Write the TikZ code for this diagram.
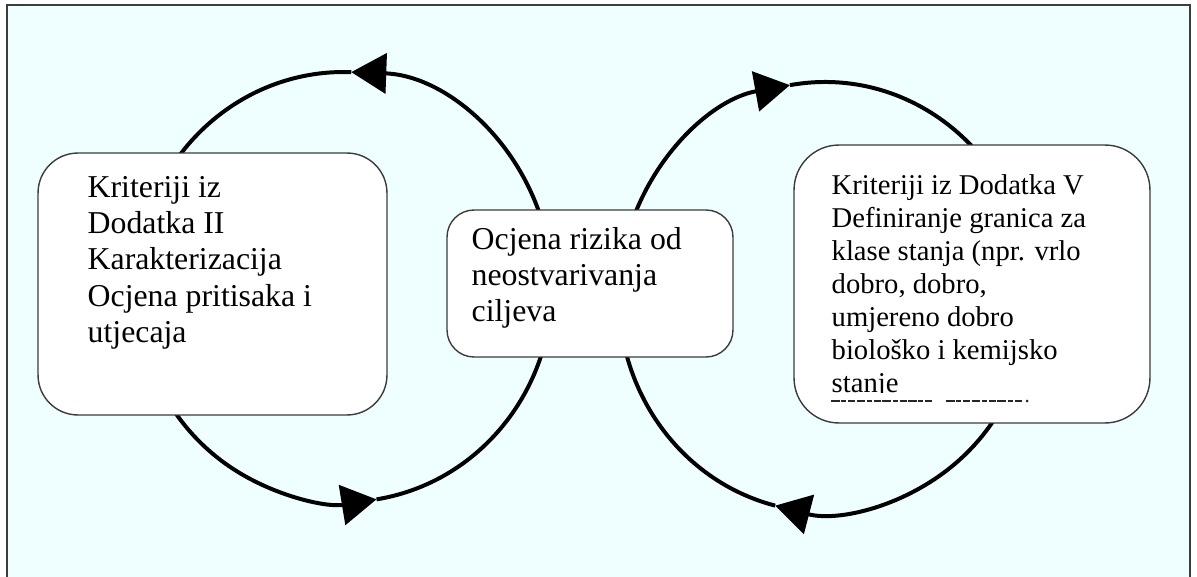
\documentclass[tikz,border=0pt]{standalone}
\usepackage{fontspec}
\setmainfont{Liberation Serif}
\usetikzlibrary{arrows.meta}
\definecolor{panel}{RGB}{239,255,255}
\definecolor{edge}{RGB}{60,60,60}
\newcommand{\bigstrut}{\rule{0pt}{14.5pt}}
\newcommand{\smallstrut}{\rule{0pt}{13.1pt}}
\tikzset{
  box/.style={draw=edge, line width=0.8pt, fill=white, inner sep=0pt},
  cycle line/.style={line width=2.27pt, black,
    -{Triangle[length=0.7cm,width=0.8cm]}},
  bigtext/.style={inner sep=0pt, anchor=north west, align=left,
    font=\fontsize{18.1pt}{20.6pt}\selectfont},
  smalltext/.style={inner sep=0pt, anchor=north west, align=left,
    font=\fontsize{16.3pt}{18.8pt}\selectfont},
  cut line/.style={line width=1.4pt, black!85,
    dash pattern=on 5pt off 0.8pt on 3pt off 1pt on 4pt off 0.8pt}
}
\begin{document}
\begin{tikzpicture}[x=0.02cm, y=0.02cm]
\useasboundingbox (0,0) rectangle (1197,576);
% panel with its frame
\fill[white] (0,0) rectangle (1197,576);
\draw[fill=panel, draw=edge, line width=1.2pt] (7,-10) rectangle (1190,571);

% centres of the two cycles
\coordinate (c1) at (344,289);
\coordinate (c2) at (825,279);

% left cycle, running anticlockwise
\draw[cycle line] (c1) ++(-81:208 and 215)
  arc[start angle=-81, end angle=88, x radius=208, y radius=215];
\draw[cycle line] (c1) ++(88:208 and 215)
  arc[start angle=88, end angle=279, x radius=208, y radius=215];

% right cycle, running clockwise
\draw[cycle line] (c2) ++(99.8:206 and 215)
  arc[start angle=99.8, end angle=-104, x radius=206, y radius=215];
\draw[cycle line] (c2) ++(256:206 and 215)
  arc[start angle=256, end angle=99.8, x radius=206, y radius=215];

% boxes
\node[box, rounded corners=0.8cm, minimum width=6.98cm, minimum height=5.24cm]
  (lbox) at (212.5,292) {};
\node[box, rounded corners=0.54cm, minimum width=5.72cm, minimum height=2.94cm]
  (mbox) at (590,292.5) {};
\node[box, rounded corners=0.9cm, minimum width=7.12cm, minimum height=5.56cm]
  (rbox) at (972,292) {};

% texts
\node[bigtext] (ltext) at ([shift={(50,-19.4)}]lbox.north west)
  {\bigstrut Kriteriji iz\\Dodatka II\\Karakterizacija\\Ocjena pritisaka i\\utjecaja};
\node[bigtext] (mtext) at ([shift={(25,-14.4)}]mbox.north west)
  {\bigstrut Ocjena rizika od\\neostvarivanja\\ciljeva};
\begin{scope}
  \clip (794,431) rectangle (1150,184);
  \node[smalltext] (rtext) at ([shift={(38,-26.9)}]rbox.north west)
    {\smallstrut Kriteriji iz Dodatka V\\Definiranje granica za\\klase stanja (npr. vrlo\\dobro, dobro,\\umjereno dobro\\biološko i kemijsko\\stanje};
\end{scope}
% cut-off remainder of the last line, left as a ragged strip
\coordinate (s1) at (831,175);
\coordinate (s2) at (932,175);
\coordinate (s3) at (946,175);
\coordinate (s4) at (1022,175);
\draw[cut line] (s1) -- (s2);
\draw[cut line] (s3) -- (s4);
\fill[black!85] (1027,175) circle (1.5);
\end{tikzpicture}
\end{document}
